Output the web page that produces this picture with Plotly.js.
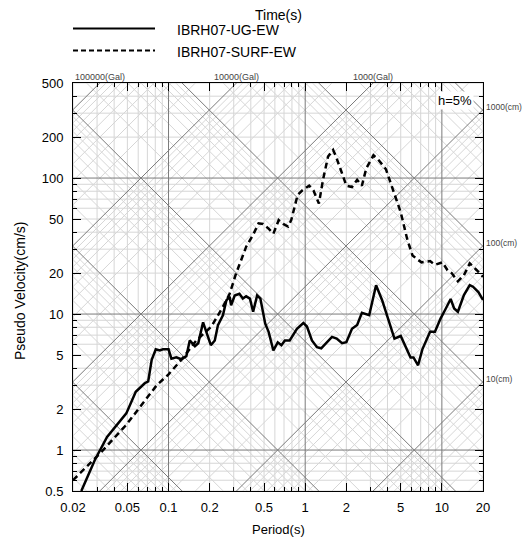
<!DOCTYPE html>
<html>
<head>
<meta charset="utf-8">
<script src="https://cdn.plot.ly/plotly-3.0.1.min.js"></script>
<style>html,body{margin:0;padding:0;background:#fff;}#chart{width:522px;height:547px;}</style>
</head>
<body>
<div id="chart"></div>
<script>
// ---- data ----
const ugPeriod = [0.023,0.0289,0.0355,0.0491,0.0576,0.067,0.071,0.0753,0.0807,0.0864,0.091,0.1,0.105,0.114,0.124,0.135,0.143,0.156,0.165,0.179,0.189,0.204,0.218,0.23,0.25,0.265,0.28,0.287,0.305,0.33,0.35,0.37,0.394,0.416,0.445,0.47,0.51,0.54,0.585,0.63,0.67,0.71,0.77,0.87,0.97,1.03,1.12,1.22,1.31,1.57,1.7,1.86,2.0,2.2,2.4,2.6,2.94,3.3,3.65,4.0,4.5,5.0,5.4,5.9,6.2,6.7,7.2,7.9,8.2,8.9,9.8,10.6,11.6,12.3,13.1,14.5,16.0,16.9,18.5,20];
const ugPSV    = [0.5,0.845,1.25,1.86,2.68,3.1,3.2,4.6,5.5,5.4,5.5,5.5,4.7,4.8,4.65,4.9,6.4,5.8,6.1,8.7,7.4,5.9,6.4,8.3,9.8,12.6,13.4,11.6,13.7,14.1,13,13.5,13,10.4,13.7,13,8.5,7.4,5.4,6.2,5.9,6.4,6.4,7.8,8.6,8.1,6.4,5.7,5.6,6.8,6.6,6.1,6.2,7.8,8.3,10.2,9.8,16.3,12.7,9.5,6.6,6.9,5.9,4.8,4.8,4.2,5.5,6.8,7.4,7.4,9.3,10.8,12.9,11.0,10.4,13.8,16.3,15.9,14.5,12.7];
const surfPeriod = [0.02,0.0323,0.049,0.065,0.082,0.1,0.124,0.16,0.206,0.25,0.28,0.31,0.37,0.416,0.456,0.49,0.54,0.585,0.64,0.69,0.75,0.79,0.88,0.95,1.07,1.15,1.26,1.35,1.47,1.6,1.68,1.9,2.0,2.2,2.4,2.6,2.8,3.16,3.4,3.9,4.5,5.0,5.6,6.1,6.7,7.1,8.2,8.9,10.1,11.0,11.8,13.1,14.5,16.0,18.0,20];
const surfPSV    = [0.6,0.97,1.53,2.2,3.0,3.6,4.6,6.4,8.1,11.3,14.1,19.5,31.3,38.3,46.5,46,42.5,39,49,46,44,49,75,81,88,81,65,97,144,161,144,102,88,86,97,88,118,147,138,116,75,56,35,27,25,24,24.5,23,24,21,20,17.4,19.3,23.6,21,18.8];

const seriesNames = ["IBRH07-UG-EW", "IBRH07-SURF-EW"];
const xTickVals = [0.02,0.05,0.1,0.2,0.5,1,2,5,10,20];
const xTickText = ["0.02","0.05","0.1","0.2","0.5","1","2","5","10","20"];
const yTickVals = [0.5,1,2,5,10,20,50,100,200,500];
const yTickText = ["0.5","1","2","5","10","20","50","100","200","500"];
const accelLabels = [100000, 10000, 1000];   // Gal
const dispLabels  = [1000, 100, 10];         // cm
const dampingText = "h=5%";

const T_MIN = 0.02, T_MAX = 20, V_MIN = 0.5, V_MAX = 500;
const TWO_PI = 2*Math.PI;

// ---- grid helpers ----
function multiples(lo, hi, nlo, nhi, ks) {
  const out = [];
  for (let n = nlo; n <= nhi; n++) for (const k of ks) {
    const v = +(k*Math.pow(10,n)).toPrecision(6);
    if (v >= lo*0.9999 && v <= hi*1.0001) out.push(v);
  }
  return out;
}
const K_MINOR = [2,3,4,5,6,7,8,9];
const vMinor = multiples(T_MIN, T_MAX, -2, 1, K_MINOR);
const vMajor = multiples(T_MIN, T_MAX, -2, 1, [1]);
const hMinor = multiples(V_MIN, V_MAX, -1, 2, K_MINOR);
const hMajor = multiples(V_MIN, V_MAX, -1, 2, [1]);
const dMinor = multiples(1e-4, 1e4, -4, 3, K_MINOR);
const dMajor = multiples(1e-4, 1e4, -4, 3, [1]);
const aMinor = multiples(1e-2, 1e6, -2, 5, K_MINOR);
const aMajor = multiples(1e-2, 1e6, -2, 5, [1]);

function gridTrace(vals, color) {
  const x = [], y = [];
  vals.v.forEach(t => { x.push(t,t,null); y.push(V_MIN,V_MAX,null); });
  vals.h.forEach(v => { x.push(T_MIN,T_MAX,null); y.push(v,v,null); });
  vals.d.forEach(d => { x.push(T_MIN,T_MAX,null); y.push(TWO_PI*d/T_MIN, TWO_PI*d/T_MAX, null); });
  vals.a.forEach(a => { x.push(T_MIN,T_MAX,null); y.push(a*T_MIN/TWO_PI, a*T_MAX/TWO_PI, null); });
  return {x, y, type:'scatter', mode:'lines', line:{color, width:1}, hoverinfo:'skip', showlegend:false, connectgaps:false};
}

const lightGrid = gridTrace({v:vMinor, h:hMinor, d:dMinor, a:aMinor}, '#d6d6d6');
const darkGrid  = gridTrace({v:vMajor, h:hMajor, d:dMajor, a:aMajor}, '#7a7a7a');

const ugTrace = {x:ugPeriod, y:ugPSV, type:'scatter', mode:'lines', name:seriesNames[0],
  line:{color:'#000', width:2.5}, hoverinfo:'skip'};
const surfTrace = {x:surfPeriod, y:surfPSV, type:'scatter', mode:'lines', name:seriesNames[1],
  line:{color:'#000', width:2.5, dash:'6px,4px'}, hoverinfo:'skip'};

const FONT = 'Liberation Sans, Arial, sans-serif';
const minorX = multiples(T_MIN, T_MAX, -2, 1, [1,2,3,4,5,6,7,8,9]).filter(v => !xTickVals.some(t => Math.abs(t-v) < 1e-9));
const minorY = multiples(V_MIN, V_MAX, -1, 2, [1,2,3,4,5,6,7,8,9]).filter(v => !yTickVals.some(t => Math.abs(t-v) < 1e-9));

const annotations = [];
accelLabels.forEach(a => annotations.push({
  xref:'x', yref:'paper', x:Math.log10(TWO_PI*V_MAX/a), y:1, yanchor:'bottom', xanchor:'center',
  text:a+'(Gal)', showarrow:false, font:{family:FONT, size:9, color:'#444'}, yshift:-1
}));
dispLabels.forEach(d => annotations.push({
  xref:'paper', yref:'y', x:1, y:Math.log10(TWO_PI*d/T_MAX), xanchor:'left', yanchor:'middle', xshift:1, yshift:3,
  text:d+'(cm)', showarrow:false, font:{family:FONT, size:8.5, color:'#444'}
}));
annotations.push({xref:'paper', yref:'paper', x:1, y:1, xanchor:'right', yanchor:'top', xshift:-9, yshift:-8,
  text:dampingText, showarrow:false, bgcolor:'#fff', borderpad:1, font:{family:FONT, size:13, color:'#000'}});
annotations.push({xref:'paper', yref:'paper', x:0.5, y:1, xanchor:'center', yanchor:'middle', yshift:68,
  text:'Time(s)', showarrow:false, font:{family:FONT, size:14, color:'#000'}});
annotations.push({xref:'paper', yref:'paper', x:0.5, y:0, xanchor:'center', yanchor:'middle', yshift:-38,
  text:'Period(s)', showarrow:false, font:{family:FONT, size:13, color:'#000'}});
annotations.push({xref:'paper', yref:'paper', x:0, y:0.5, xanchor:'center', yanchor:'middle', xshift:-53, yshift:-4,
  text:'Pseudo Velocity(cm/s)', textangle:-90, showarrow:false, font:{family:FONT, size:14, color:'#000'}});
// legend texts
annotations.push({xref:'paper', yref:'paper', x:0, y:1, xanchor:'left', yanchor:'middle', xshift:102, yshift:53,
  text:seriesNames[0], showarrow:false, font:{family:FONT, size:14, color:'#000'}});
annotations.push({xref:'paper', yref:'paper', x:0, y:1, xanchor:'left', yanchor:'middle', xshift:102, yshift:31,
  text:seriesNames[1], showarrow:false, font:{family:FONT, size:14, color:'#000'}});

// legend sample lines (pixel offsets above plot, in paper units)
const PH = 408, PW = 410;
const shapes = [
  {type:'line', xref:'paper', yref:'paper', x0:0, x1:82/PW, y0:1+54.5/PH, y1:1+54.5/PH, line:{color:'#000', width:2}},
  {type:'line', xref:'paper', yref:'paper', x0:0, x1:82/PW, y0:1+32.5/PH, y1:1+32.5/PH, line:{color:'#000', width:2, dash:'5px,3px'}}
];

const axisCommon = {
  type:'log', tickmode:'array', ticks:'inside', ticklen:8, tickwidth:1, tickcolor:'#000',
  showline:true, linecolor:'#000', linewidth:1, mirror:'allticks', showgrid:false, zeroline:false,
  tickfont:{family:FONT, size:13, color:'#000'}, fixedrange:true
};
const layout = {
  width:522, height:547, margin:{l:73, r:39, t:83, b:56},
  paper_bgcolor:'#fff', plot_bgcolor:'#fff', showlegend:false,
  xaxis:Object.assign({}, axisCommon, {range:[Math.log10(T_MIN), Math.log10(T_MAX)], tickvals:xTickVals, ticktext:xTickText,
    ticklabelstandoff:4, minor:{tickmode:'array', tickvals:minorX, ticks:'inside', ticklen:4, tickcolor:'#000', showgrid:false}}),
  yaxis:Object.assign({}, axisCommon, {range:[Math.log10(V_MIN), Math.log10(V_MAX)], tickvals:yTickVals, ticktext:yTickText,
    ticklabelstandoff:6, minor:{tickmode:'array', tickvals:minorY, ticks:'inside', ticklen:4, tickcolor:'#000', showgrid:false}}),
  annotations, shapes
};

Plotly.newPlot('chart', [lightGrid, darkGrid, surfTrace, ugTrace], layout, {displayModeBar:false, staticPlot:true});
</script>
</body>
</html>
